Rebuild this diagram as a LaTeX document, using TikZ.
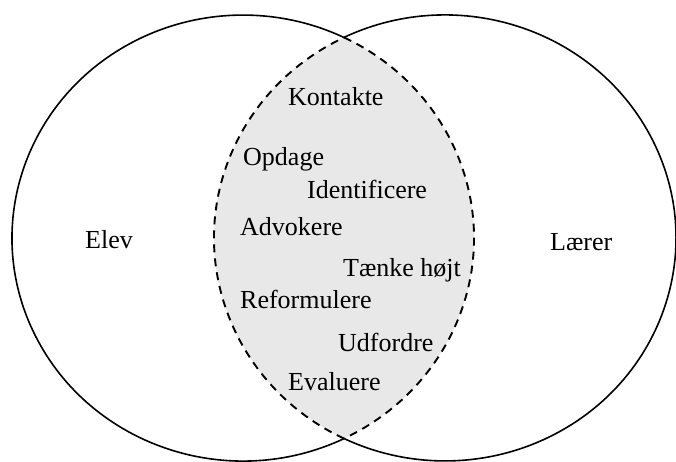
\documentclass[tikz,border=0pt]{standalone}
\usepackage{fontspec}
\setmainfont{Liberation Serif}
\definecolor{lensgray}{HTML}{E8E8E8}
\tikzset{
  lbl/.style={anchor=base west, inner sep=0pt, font=\fontsize{26}{31}\selectfont, text=black},
  outline/.style={line width=1.6pt, draw=black},
  lensline/.style={line width=1.9pt, draw=black, dash pattern=on 8pt off 6pt},
  ell/.style={x radius=231, y radius=223}
}
\begin{document}
\begin{tikzpicture}[x=1pt,y=-1pt]
\useasboundingbox (0,0) rectangle (676,461);
\fill[white] (0,0) rectangle (676,461);
\coordinate (T) at (344,37.4);
\coordinate (B) at (344,438.6);
% lens fill
\path[fill=lensgray] (T) arc[start angle=-64.07, end angle=64.07, ell]
  arc[start angle=115.93, end angle=244.07, ell] -- cycle;
% dashed lens boundary
\draw[lensline] (T) arc[start angle=-64.07, end angle=64.07, ell];
\draw[lensline] (B) arc[start angle=115.93, end angle=244.07, ell];
% outer solid arcs
\draw[outline] (B) arc[start angle=64.07, end angle=295.93, ell];
\draw[outline] (T) arc[start angle=-115.93, end angle=115.93, ell];
% labels
\node[lbl] (kon) at (288,105) {Kontakte};
\node[lbl] (opd) at (243,165) {Opdage};
\node[lbl] (ide) at (307,198) {Identificere};
\node[lbl] (adv) at (240,235) {Advokere};
\node[lbl] (tae) at (343,276) {Tænke højt};
\node[lbl] (ref) at (240,308) {Reformulere};
\node[lbl] (udf) at (338,351) {Udfordre};
\node[lbl] (eva) at (288,390) {Evaluere};
\node[lbl] (elev) at (85,248) {Elev};
\node[lbl] (laer) at (550,250) {Lærer};
\end{tikzpicture}
\end{document}
